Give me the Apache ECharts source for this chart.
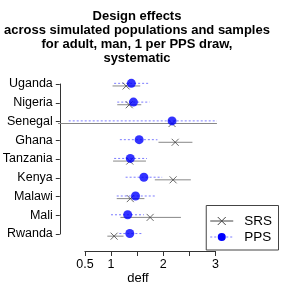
<!DOCTYPE html>
<html><head><meta charset="utf-8">
<script src="https://cdn.jsdelivr.net/npm/echarts@6/dist/echarts.min.js"></script>
<style>html,body{margin:0;padding:0;background:#fff}#c{width:285px;height:285px}</style>
</head><body><div id="c"></div>
<script>
const countries = ["Uganda","Nigeria","Senegal","Ghana","Tanzania","Kenya","Malawi","Mali","Rwanda"];
const srsEst = [1.29, 1.35, 2.17, 2.23, 1.36, 2.19, 1.37, 1.75, 1.06];
const srsLo  = [1.03, 1.12, -0.5, 1.91, 1.04, 1.84, 1.11, 1.18, 0.93];
const srsHi  = [1.56, 1.58, 3.03, 2.56, 1.67, 2.53, 1.64, 2.34, 1.24];
const ppsEst = [1.39, 1.43, 2.17, 1.54, 1.37, 1.63, 1.47, 1.32, 1.36];
const ppsLo  = [1.06, 1.12, 0.19, 1.17, 1.06, 1.28, 1.11, 1.00, 1.16];
const ppsHi  = [1.72, 1.74, 3.03, 1.89, 1.69, 1.98, 1.85, 1.63, 1.59];
const xTicks = [0.5, 1, 1.5, 2, 2.5, 3];
const xTickLabels = ["0.5", "1", "", "2", "", "3"];
const titleText = "Design effects\nacross simulated populations and samples\nfor adult, man, 1 per PPS draw,\nsystematic";
const xName = "deff";

const FONT = "Liberation Sans, Arial, sans-serif";
const srsOff = 0.07, ppsOff = -0.07;

function barData(lo, hi, off) { return countries.map((c, i) => [lo[i], hi[i], i + 1 + off]); }
function ptData(est, off) { return countries.map((c, i) => [est[i], i + 1 + off]); }

function barRender(color, dash) {
  return function (params, api) {
    const a = api.coord([api.value(0), api.value(2)]);
    const b = api.coord([api.value(1), api.value(2)]);
    return { type: 'line', shape: { x1: a[0], y1: a[1], x2: b[0], y2: b[1] },
      style: { stroke: color, lineWidth: 1, lineDash: dash } };
  };
}

const chart = echarts.init(document.getElementById('c'), null, { renderer: 'canvas' });
const crossPath = 'path://M0,0L10,10M10,0L0,10';
chart.setOption({
  animation: false,
  grid: [
    { left: 58.8, right: 7, top: 68.5, bottom: 34 },
    { left: 84.9, width: 130.5, bottom: 34, height: 1 },
    { left: 58.8, width: 1, top: 84, height: 150 }
  ],
  xAxis: [
    { gridIndex: 0, type: 'value', min: 0, max: 4.2, show: false },
    { gridIndex: 1, type: 'value', min: 0.5, max: 3, interval: 0.5,
      axisLine: { show: true, onZero: false, lineStyle: { color: '#333', width: 1 } },
      axisTick: { show: true, length: 5, lineStyle: { color: '#333' } },
      splitLine: { show: false },
      axisLabel: { margin: 7, fontSize: 12.5, color: '#000', fontFamily: FONT,
        formatter: v => { const k = xTicks.indexOf(v); return k >= 0 ? xTickLabels[k] : ''; } } },
    { gridIndex: 2, type: 'value', show: false }
  ],
  yAxis: [
    { gridIndex: 0, type: 'value', min: 0.14, max: 9.86, inverse: true, show: false },
    { gridIndex: 1, type: 'value', show: false },
    { gridIndex: 2, type: 'category', data: countries, inverse: true, boundaryGap: false,
      axisLine: { show: true, lineStyle: { color: '#333', width: 1 } },
      axisTick: { show: true, length: 4, alignWithLabel: true, lineStyle: { color: '#333' } },
      axisLabel: { margin: 7, fontSize: 12.5, color: '#000', fontFamily: FONT, interval: 0 } }
  ],
  legend: {
    right: 6.5, bottom: 35, orient: 'vertical', itemWidth: 23, itemHeight: 10, itemGap: 2,
    padding: [8.5, 6.5, 6, 3.5], borderColor: '#444', borderWidth: 1,
    lineStyle: { width: 1 }, itemStyle: { borderWidth: 1 },
    textStyle: { fontSize: 13.5, lineHeight: 14, color: '#000', fontFamily: FONT, padding: [0, 0, 0, 6] },
    data: ['SRS', 'PPS']
  },
  graphic: [
    { type: 'text', x: 137, y: 9, style: { text: titleText, font: 'bold 13px ' + FONT,
      align: 'center', verticalAlign: 'top', lineHeight: 14.1, fill: '#000' } },
    { type: 'text', x: 138, y: 278.5, style: { text: xName, font: '13px ' + FONT,
      align: 'center', verticalAlign: 'middle', fill: '#000' } }
  ],
  series: [
    { type: 'custom', name: 'srsBars', xAxisIndex: 0, yAxisIndex: 0, clip: true,
      encode: { x: [0, 1], y: 2 }, data: barData(srsLo, srsHi, srsOff), renderItem: barRender('#888', null) },
    { type: 'custom', name: 'ppsBars', xAxisIndex: 0, yAxisIndex: 0, clip: true,
      encode: { x: [0, 1], y: 2 }, data: barData(ppsLo, ppsHi, ppsOff), renderItem: barRender('#7c7cff', [2, 2]) },
    { type: 'scatter', name: 'srsPts', xAxisIndex: 0, yAxisIndex: 0, symbol: crossPath, symbolSize: 7,
      itemStyle: { color: 'none', borderColor: '#444', borderWidth: 1 }, data: ptData(srsEst, srsOff) },
    { type: 'scatter', name: 'ppsPts', xAxisIndex: 0, yAxisIndex: 0, symbol: 'circle', symbolSize: 9,
      itemStyle: { color: '#0000ff' }, data: ptData(ppsEst, ppsOff) },
    { type: 'line', name: 'SRS', xAxisIndex: 0, yAxisIndex: 0, data: [], symbol: crossPath, symbolSize: 7,
      lineStyle: { color: '#444', width: 1 }, itemStyle: { color: 'none', borderColor: '#444', borderWidth: 1 } },
    { type: 'line', name: 'PPS', xAxisIndex: 0, yAxisIndex: 0, data: [], symbol: 'circle', symbolSize: 9,
      lineStyle: { color: '#7c7cff', width: 1, type: [2, 2] }, itemStyle: { color: '#0000ff' } }
  ]
});
</script></body></html>
